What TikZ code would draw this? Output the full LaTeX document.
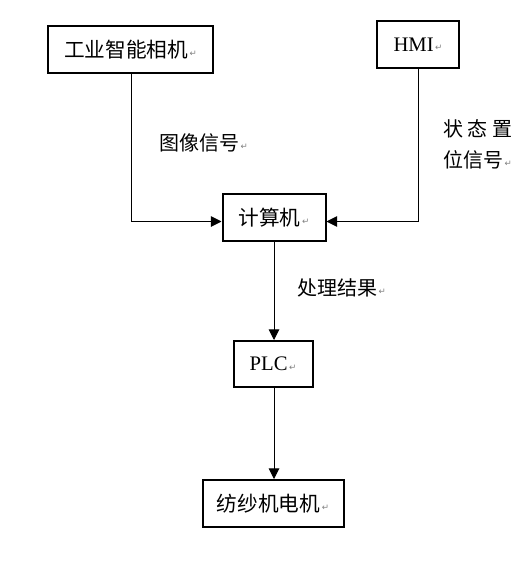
\documentclass[tikz,border=0pt]{standalone}
\usepackage{fontspec}
\setmainfont{Liberation Serif}
\newfontfamily\cjk{Noto Sans CJK SC}
\newfontfamily\symf{DejaVu Sans}
\usetikzlibrary{arrows.meta}
\newcommand{\pmark}{{\symf\fontsize{6.5pt}{7pt}\selectfont\color{gray}\,\raisebox{0.5pt}{↵}}}
\begin{document}
\begin{tikzpicture}[x=0.75pt,y=-0.75pt,
  box/.style={draw=black,line width=1.5pt,inner sep=0pt,font=\fontsize{15.5pt}{18pt}\selectfont},
  conn/.style={draw=black,line width=0.75pt,-{Triangle[length=8pt,width=8pt]}},
  lbl/.style={inner sep=0pt,anchor=west,font=\cjk\fontsize{15pt}{18pt}\selectfont}]
\useasboundingbox (0,0) rectangle (527,585);
\node[box,minimum width=165*0.75pt,minimum height=47*0.75pt] (cam) at (130.5,49.5) {\cjk 工业智能相机\pmark};
\node[box,minimum width=82*0.75pt,minimum height=47*0.75pt] (hmi) at (418,44.5) {HMI\pmark};
\node[box,minimum width=103*0.75pt,minimum height=47*0.75pt] (pc) at (274,217.5) {\cjk 计算机\pmark};
\node[box,minimum width=79*0.75pt,minimum height=46*0.75pt] (plc) at (273,364) {PLC\pmark};
\node[box,minimum width=141*0.75pt,minimum height=47*0.75pt] (mot) at (273,503.5) {\cjk 纺纱机电机\pmark};
\node[lbl] (l1) at (159,143) {图像信号\pmark};
\node[lbl] (l2) at (443,129) {状\hspace{3.5pt}态\hspace{3.5pt}置};
\node[lbl] (l3) at (443,160) {位信号\pmark};
\node[lbl] (l4) at (297,288) {处理结果\pmark};
\draw[conn] ([xshift=1pt]cam.south) |- ([yshift=-3pt]pc.west);
\draw[conn] (hmi.south) |- ([yshift=-3pt]pc.east);
\draw[conn] (pc.south) -- (pc.south |- plc.north);
\draw[conn] ([xshift=0.75pt]plc.south) -- ([xshift=0.75pt]mot.north);
\end{tikzpicture}
\end{document}
